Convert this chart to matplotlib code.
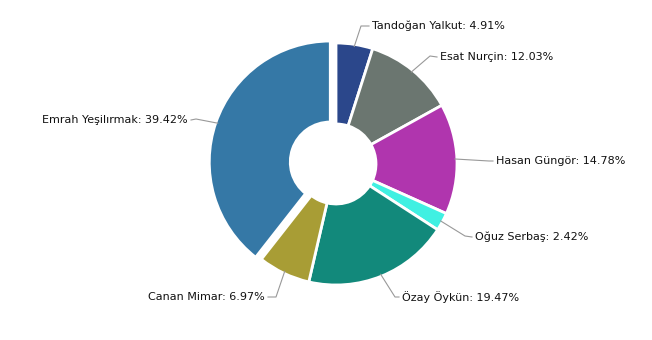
import numpy as np
import matplotlib
matplotlib.use("Agg")
import matplotlib.pyplot as plt

names = ["Tandoğan Yalkut", "Esat Nurçin", "Hasan Güngör", "Oğuz Serbaş",
         "Özay Öykün", "Canan Mimar", "Emrah Yeşilırmak"]
shares = [4.91, 12.03, 14.78, 2.42, 19.47, 6.97, 39.42]
colors = ["#2b478b", "#6b7670", "#b035ae", "#40f0e2", "#12897b", "#a89d35", "#3578a6"]
explode_frac = [0, 0, 0, 0, 0, 0, 0.05]

W, H = 652, 340
fig = plt.figure(figsize=(W / 100, H / 100), dpi=100)
ax = fig.add_axes([0, 0, 1, 1])
ax.set_xlim(0, W)
ax.set_ylim(0, H)
ax.set_aspect("equal")
ax.axis("off")

cx, cy = 336, H - 164
R, r_in = 121, 40
wedges, _ = ax.pie(shares, colors=colors, startangle=90, counterclock=False,
                   center=(cx, cy), radius=R, explode=[e * R for e in explode_frac],
                   wedgeprops=dict(width=R - r_in, edgecolor="white", linewidth=2))
ax.set_xlim(0, W)
ax.set_ylim(0, H)

# label layout: (elbow x, elbow y, text x, text y, alignment) in pixel coords (y down)
layout = [
    (361, 26, 372, 26, "left"),
    (430, 56, 440, 57, "left"),
    (489, 161, 496, 161, "left"),
    (465, 236, 475, 237, "left"),
    (395, 297, 402, 297, "left"),
    (276, 297, 265, 297, "right"),
    (196, 119, 188, 120, "right"),
]

for w, name, val, (ex, ey, tx, ty, ha) in zip(wedges, names, shares, layout):
    ang = np.deg2rad((w.theta1 + w.theta2) / 2)
    wc = w.center
    sx = wc[0] + (R - 2) * np.cos(ang)
    sy = wc[1] + (R - 2) * np.sin(ang)
    endx = tx - 3 if ha == "left" else tx + 3
    ax.plot([sx, ex, endx], [sy, H - ey, H - ty], color="#999999", lw=0.8)
    ax.text(tx, H - ty, f"{name}: {val:.2f}%", ha=ha, va="center",
            fontsize=8, color="#111111", family="DejaVu Sans")

fig.savefig("out.png", dpi=100, facecolor="white")
